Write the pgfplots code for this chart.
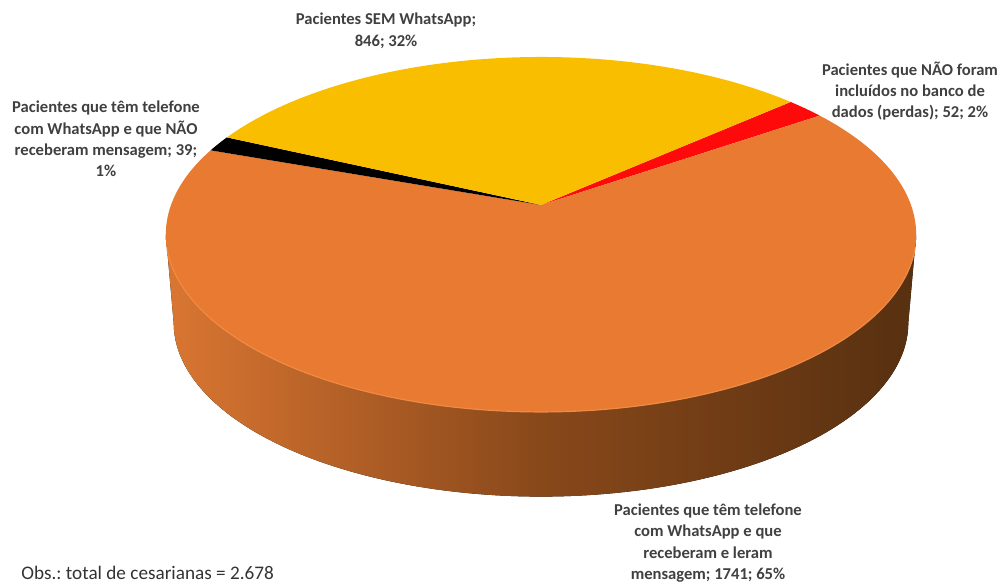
\documentclass[border=0pt]{standalone}
\usepackage{pgfplots}
\pgfplotsset{compat=1.18}
\usepgfplotslibrary{fillbetween}
\usepackage{fontspec}
\setmainfont{Carlito}
\frenchspacing
\definecolor{cYel}{HTML}{FABE00}
\definecolor{cOra}{HTML}{E97A31}
\definecolor{cRed}{HTML}{FF0A0A}
\definecolor{cBlk}{HTML}{000000}
\definecolor{cTxt}{HTML}{404040}
\definecolor{sideL}{HTML}{DA7632}
\definecolor{sideM}{HTML}{88481A}
\definecolor{sideR}{HTML}{573010}
\definecolor{rim}{HTML}{F08A45}
% data: patients (count)
\def\vR{52}   % NAO incluidos (perdas)
\def\vO{1741} % receberam e leram
\def\vB{39}   % NAO receberam
\def\vY{846}  % SEM WhatsApp
\begin{document}
\begin{tikzpicture}
\pgfmathsetmacro\tot{\vR+\vO+\vB+\vY}
\pgfmathsetmacro\ta{-41.5}
\pgfmathsetmacro\tb{\ta+360*(\vR/\tot)}
\pgfmathsetmacro\tc{\tb+360*(\vO/\tot)}
\pgfmathsetmacro\td{\tc+360*(\vB/\tot)}
\pgfmathsetmacro\te{\td+360*(\vY/\tot)}
\begin{axis}[
  width=501pt, height=292pt, scale only axis,
  xmin=0, xmax=1002, ymin=0, ymax=584,
  axis lines=none, clip=false,
  declare function={
    px(\t)=541+370*cos(\t)/(1-0.166*sin(\t));
    py(\t)=379-172.6*sin(\t)/(1-0.166*sin(\t));
    bx(\t)=541+0.979*370*cos(\t)/(1-0.166*sin(\t));
    by(\t)=290-0.979*172.6*sin(\t)/(1-0.166*sin(\t));
  },
]
\path (axis cs:0,0) rectangle (axis cs:1002,584);
% side of the pie
\addplot[draw=none, name path=topc, domain=9.556:170.444, samples=120, variable=\t] ({px(\t)},{py(\t)});
\addplot[draw=none, name path=botc, domain=9.556:170.444, samples=120, variable=\t] ({bx(\t)},{by(\t)});
\addplot[left color=sideL, right color=sideR, middle color=sideM, draw=none] fill between[of=topc and botc];
% top face slices
\addplot[fill=cRed, draw=none, domain=\ta:\tb, samples=10, variable=\t] ({px(\t)},{py(\t)}) -- (axis cs:541,379) -- cycle;
\addplot[fill=cOra, draw=none, domain=\tb:\tc, samples=160, variable=\t] ({px(\t)},{py(\t)}) -- (axis cs:541,379) -- cycle;
\addplot[fill=cBlk, draw=none, domain=\tc:\td, samples=10, variable=\t] ({px(\t)},{py(\t)}) -- (axis cs:541,379) -- cycle;
\addplot[fill=cYel, draw=none, domain=\td:\te, samples=90, variable=\t] ({px(\t)},{py(\t)}) -- (axis cs:541,379) -- cycle;
% rim highlight
\addplot[draw=rim, line width=0.6pt, domain=14:166, samples=100, variable=\t] ({px(\t)},{py(\t)});
% labels
\begin{scope}[every node/.style={font=\fontsize{8.3}{10.7}\selectfont\bfseries, text=cTxt, align=center, inner sep=0pt}]
\node at (axis cs:386,553) {Pacientes SEM WhatsApp;\\846; 32\%};
\node at (axis cs:910,493) {Pacientes que NÃO foram\\incluídos no banco de\\dados (perdas); 52; 2\%};
\node at (axis cs:106,445) {Pacientes que têm telefone\\com WhatsApp e que NÃO\\receberam mensagem; 39;\\1\%};
\node[anchor=south] at (axis cs:708,1) {Pacientes que têm telefone\\com WhatsApp e que\\receberam e leram\\mensagem; 1741; 65\%};
\end{scope}
\node[anchor=base west, inner sep=0pt, font=\fontsize{9.6}{11}\selectfont, text=black!80] at (axis cs:21,4) {Obs.: total de cesarianas = 2.678};
\end{axis}
\end{tikzpicture}
\end{document}
